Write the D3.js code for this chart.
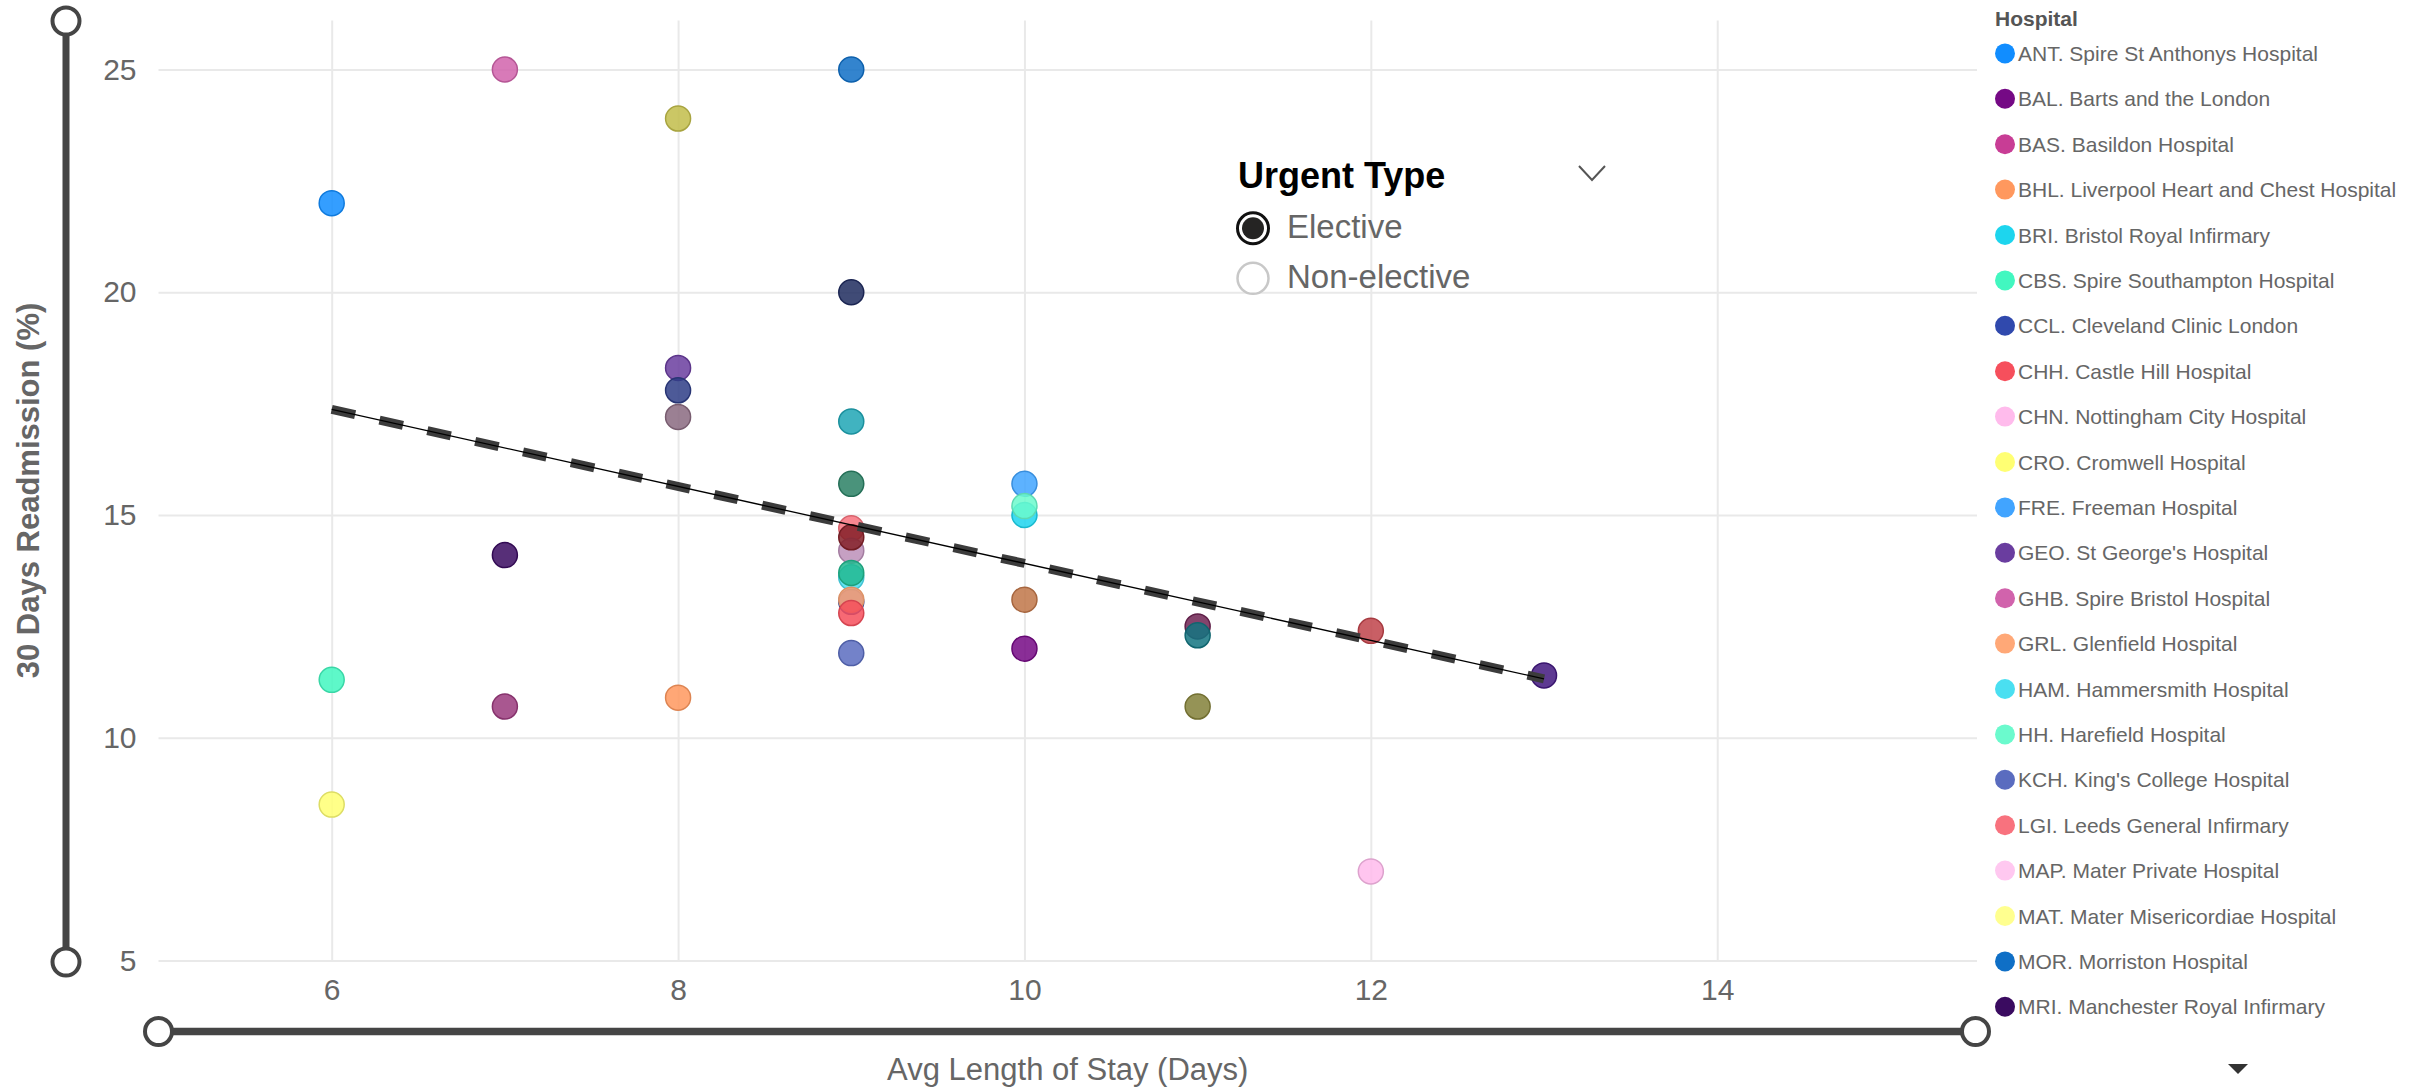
<!DOCTYPE html>
<meta charset="utf-8">
<head>
  <script src="https://cdn.jsdelivr.net/npm/d3@7"></script>
  <style>
    body { margin: 0; background: #fff; }
    text { font-family: "Liberation Sans", Arial, sans-serif; }
  </style>
</head>
<body>
<script type="text/javascript">

// legend entries visible in the (scrolled) hospital legend
var hospitalCodes = ["ANT","BAL","BAS","BHL","BRI","CBS","CCL","CHH","CHN","CRO","FRE",
  "GEO","GHB","GRL","HAM","HH","KCH","LGI","MAP","MAT","MOR","MRI"];
var hospitalNames = ["ANT. Spire St Anthonys Hospital","BAL. Barts and the London","BAS. Basildon Hospital",
  "BHL. Liverpool Heart and Chest Hospital","BRI. Bristol Royal Infirmary","CBS. Spire Southampton Hospital",
  "CCL. Cleveland Clinic London","CHH. Castle Hill Hospital","CHN. Nottingham City Hospital",
  "CRO. Cromwell Hospital","FRE. Freeman Hospital","GEO. St George's Hospital","GHB. Spire Bristol Hospital",
  "GRL. Glenfield Hospital","HAM. Hammersmith Hospital","HH. Harefield Hospital","KCH. King's College Hospital",
  "LGI. Leeds General Infirmary","MAP. Mater Private Hospital","MAT. Mater Misericordiae Hospital",
  "MOR. Morriston Hospital","MRI. Manchester Royal Infirmary"];
var hospitalColors = ["#118DFF","#750985","#C83D95","#FF985E","#1DD5EE","#42F7C0","#3049AD","#F64F5C",
  "#FFBBEC","#FFFF73","#41A4FF","#6A3D9F","#D163AC","#FFA877","#4ADFF1","#6BFACD","#5A6CBF","#F8727E",
  "#FFC8F0","#FFFF8F","#0F6FC6","#3A0B60"];

// series further down the legend (scrolled out of view) - only their colours show
var moreCodes  = ["m1","m2","m3","m4","m5","m6","m7","m8","m9","m10","m11","m12","m13","m14","m15","m16"];
var moreColors = ["#C2BD4A","#1F2B5E","#2E3D86","#8A6A80","#1FA6B5","#2A8064","#BC8FB8","#842028",
  "#22B88F","#9A3A7C","#C07548","#6E2352","#137480","#838038","#C0434A","#42187F"];

// Elective points
var pointHospital = ["ANT","m1","GHB","MOR","m2","GEO","m3","m4","m5","m6","LGI","m7","m8","HAM","m9",
  "CCL","GRL","CHH","KCH","MRI","m10","CBS","CRO","BHL","FRE","BRI","HH","m11","BAL","m12","m13","m14",
  "m15","CHN","m16"];
var avgLos = [6,8,7,9,9,8,8,8,9,9,9,9,9,9,9,9,9,9,9,7,7,6,6,8,10,10,10,10,10,11,11,11,12,12,13];
var readmission = [22.0,23.9,25.0,25.0,20.0,18.3,17.8,17.2,17.1,15.7,14.7,14.2,14.5,13.6,13.7,
  13.05,13.1,12.8,11.9,14.1,10.7,11.3,8.5,10.9,15.7,15.0,15.2,13.1,12.0,12.5,12.3,10.7,12.4,7.0,11.4];

var xTicks = [6,8,10,12,14];
var yTicks = [5,10,15,20,25];
var xTitle = "Avg Length of Stay (Days)";
var yTitle = "30 Days Readmission (%)";
var slicerTitle = "Urgent Type";
var slicerItems = ["Elective","Non-elective"];
var legendTitle = "Hospital";

var w = 2432, h = 1090;
var plotL = 158.5, plotR = 1977, plotT = 20.5, plotB = 960.5;

var svg = d3.select("body").append("svg")
    .attr("width", w)
    .attr("height", h);

var x = d3.scaleLinear().domain([5, 15.5]).range([plotL, plotR]);
var y = d3.scaleLinear().domain([5, 26.1]).range([plotB, plotT]);

var color = d3.scaleOrdinal()
    .domain(hospitalCodes.concat(moreCodes))
    .range(hospitalColors.concat(moreColors));

// gridlines
svg.append("g")
    .attr("transform", "translate(0," + plotB + ")")
    .call(d3.axisBottom(x).tickValues(xTicks).tickSize(-(plotB - plotT)).tickFormat(""))
    .call(function(g){ g.select(".domain").remove(); })
    .selectAll("line").attr("stroke", "#e9e9e9").attr("stroke-width", 2);

svg.append("g")
    .attr("transform", "translate(" + plotL + ",0)")
    .call(d3.axisLeft(y).tickValues(yTicks).tickSize(-(plotR - plotL)).tickFormat(""))
    .call(function(g){ g.select(".domain").remove(); })
    .selectAll("line").attr("stroke", "#e9e9e9").attr("stroke-width", 2);

// axis labels
var xAxis = svg.append("g")
    .attr("transform", "translate(0," + plotB + ")")
    .call(d3.axisBottom(x).tickValues(xTicks).tickSize(0).tickPadding(18));
xAxis.select(".domain").remove();
xAxis.selectAll("text").attr("font-size", 30).attr("fill", "#666")
    .attr("font-family", "Liberation Sans, Arial, sans-serif");

var yAxis = svg.append("g")
    .attr("transform", "translate(" + plotL + ",0)")
    .call(d3.axisLeft(y).tickValues(yTicks).tickSize(0).tickPadding(22));
yAxis.select(".domain").remove();
yAxis.selectAll("text").attr("font-size", 30).attr("fill", "#666")
    .attr("font-family", "Liberation Sans, Arial, sans-serif");

svg.append("text")
    .attr("x", (plotL + plotR) / 2).attr("y", 1080)
    .attr("text-anchor", "middle")
    .attr("font-size", 31).attr("fill", "#666")
    .text(xTitle);

svg.append("text")
    .attr("transform", "translate(39," + (plotT + plotB) / 2 + ") rotate(-90)")
    .attr("text-anchor", "middle")
    .attr("font-size", 31).attr("font-weight", "bold").attr("fill", "#666")
    .text(yTitle);

// points
var pts = avgLos.map(function(d, i){ return {x: d, y: readmission[i], h: pointHospital[i]}; });

svg.append("g").selectAll("circle")
    .data(pts)
    .enter()
    .append("circle")
    .attr("cx", function(d){ return x(d.x); })
    .attr("cy", function(d){ return y(d.y); })
    .attr("r", 12.5)
    .attr("fill", function(d){ return color(d.h); })
    .attr("fill-opacity", 0.85)
    .attr("stroke", function(d){ return d3.color(color(d.h)).darker(0.4); })
    .attr("stroke-width", 1.5);

// linear trend line from the points
var mx = d3.mean(pts, function(d){ return d.x; });
var my = d3.mean(pts, function(d){ return d.y; });
var sxy = d3.sum(pts, function(d){ return (d.x - mx) * (d.y - my); });
var sxx = d3.sum(pts, function(d){ return (d.x - mx) * (d.x - mx); });
var slope = sxy / sxx, icpt = my - slope * mx;
var ext = d3.extent(pts, function(d){ return d.x; });
var trend = ext.map(function(v){ return [x(v), y(icpt + slope * v)]; });

svg.append("path")
    .attr("d", d3.line()(trend))
    .attr("stroke", "#3c3c3c").attr("stroke-width", 9)
    .attr("stroke-dasharray", "24,25").attr("fill", "none");
svg.append("path")
    .attr("d", d3.line()(trend))
    .attr("stroke", "#000").attr("stroke-width", 1.3).attr("fill", "none");

// range sliders
var sl = svg.append("g").attr("stroke", "#454545").attr("fill", "#fff");
sl.append("line").attr("x1", 66).attr("x2", 66).attr("y1", 21).attr("y2", 962).attr("stroke-width", 7);
sl.append("line").attr("x1", 158.5).attr("x2", 1975.5).attr("y1", 1031.5).attr("y2", 1031.5).attr("stroke-width", 7.5);
[[66,21],[66,962],[158.5,1031.5],[1975.5,1031.5]].forEach(function(p){
  sl.append("circle").attr("cx", p[0]).attr("cy", p[1]).attr("r", 13.5).attr("stroke-width", 4);
});

// Urgent Type slicer
svg.append("text")
    .attr("x", 1238).attr("y", 188)
    .attr("font-size", 36).attr("font-weight", "bold").attr("fill", "#000")
    .text(slicerTitle);
svg.append("path")
    .attr("d", "M1579,166 L1592,180 L1605,166")
    .attr("stroke", "#555").attr("stroke-width", 2).attr("fill", "none");

var sItem = svg.append("g").selectAll("g")
    .data(slicerItems)
    .enter()
    .append("g")
    .attr("transform", function(d, i){ return "translate(1253," + (228.3 + i * 50) + ")"; });
sItem.append("circle")
    .attr("r", 15.5)
    .attr("fill", "#fff")
    .attr("stroke", function(d, i){ return i === 0 ? "#111" : "#c8c8c8"; })
    .attr("stroke-width", function(d, i){ return i === 0 ? 3 : 2.5; });
sItem.filter(function(d, i){ return i === 0; }).append("circle")
    .attr("r", 11).attr("fill", "#252423");
sItem.append("text")
    .attr("x", 34).attr("y", 10)
    .attr("font-size", 33).attr("fill", "#666")
    .text(function(d){ return d; });

// hospital legend
svg.append("text")
    .attr("x", 1995).attr("y", 26)
    .attr("font-size", 21).attr("font-weight", "bold").attr("fill", "#555")
    .text(legendTitle);

var lg = svg.append("g").selectAll("g")
    .data(hospitalCodes)
    .enter()
    .append("g")
    .attr("transform", function(d, i){ return "translate(2005," + (53.4 + i * 45.4) + ")"; });
lg.append("circle").attr("r", 10).attr("fill", function(d){ return color(d); });
lg.append("text")
    .attr("x", 13).attr("dy", "0.36em")
    .attr("font-size", 21).attr("fill", "#666")
    .text(function(d, i){ return hospitalNames[i]; });

svg.append("path")
    .attr("d", "M2228,1064 L2248,1064 L2238,1074 Z")
    .attr("fill", "#333");

</script>
</body>
